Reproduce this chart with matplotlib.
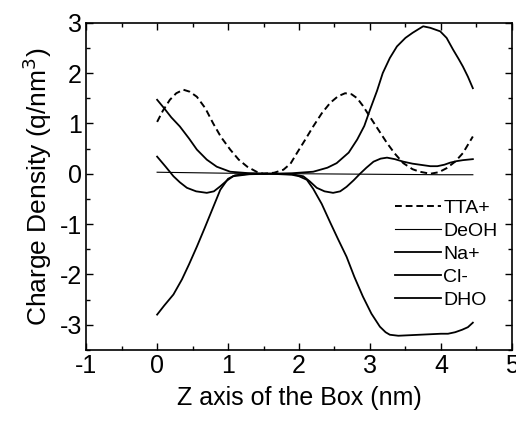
import matplotlib
matplotlib.use("Agg")
import matplotlib.pyplot as plt
from matplotlib.ticker import MultipleLocator

plt.rcParams["font.family"] = ["Liberation Sans", "DejaVu Sans"]
plt.rcParams["axes.unicode_minus"] = False

# TTA+ (dashed)
tta_x = [0, 0.08, 0.18, 0.27, 0.37, 0.46, 0.56, 0.68, 0.79, 0.9, 1.03, 1.15, 1.27,
         1.4, 1.5, 1.65, 1.78, 1.88, 1.97, 2.08, 2.2, 2.32, 2.44, 2.55, 2.65, 2.74,
         2.82, 2.9, 3.0, 3.12, 3.24, 3.35, 3.47, 3.6, 3.7, 3.85, 3.97, 4.08, 4.2,
         4.31, 4.45]
tta_y = [1.03, 1.25, 1.47, 1.6, 1.67, 1.63, 1.53, 1.3, 1.0, 0.73, 0.48, 0.28, 0.14,
         0.04, 0.0, 0.02, 0.08, 0.2, 0.41, 0.66, 0.94, 1.2, 1.41, 1.54, 1.6, 1.58,
         1.5, 1.35, 1.13, 0.87, 0.61, 0.4, 0.21, 0.09, 0.04, 0.0, 0.03, 0.11, 0.24,
         0.41, 0.74]

# DeOH (thin, ~flat)
deoh_x = [0, 1, 2, 3, 4, 4.45]
deoh_y = [0.03, 0.01, 0.0, -0.01, -0.02, -0.02]

# Na+
na_x = [0, 0.1, 0.2, 0.32, 0.45, 0.56, 0.7, 0.84, 1.03, 1.3, 1.6, 1.9, 2.2, 2.4,
        2.53, 2.7, 2.82, 2.92, 3.0, 3.1, 3.18, 3.28, 3.38, 3.5, 3.6, 3.68, 3.75,
        3.85, 3.99, 4.08, 4.17, 4.25, 4.31, 4.38, 4.45]
na_y = [1.47, 1.3, 1.12, 0.94, 0.7, 0.48, 0.28, 0.14, 0.04, 0.01, 0.0, 0.01, 0.04,
        0.12, 0.21, 0.42, 0.68, 0.95, 1.27, 1.65, 2.0, 2.3, 2.53, 2.7, 2.8, 2.87,
        2.93, 2.9, 2.83, 2.7, 2.47, 2.28, 2.13, 1.93, 1.7]

# Cl-
cl_x = [0, 0.12, 0.23, 0.32, 0.42, 0.55, 0.7, 0.8, 0.89, 0.98, 1.07, 1.3, 1.6, 1.9,
        2.06, 2.15, 2.25, 2.36, 2.48, 2.58, 2.67, 2.77, 2.86, 2.95, 3.05, 3.15,
        3.24, 3.35, 3.47, 3.6, 3.75, 3.85, 3.95, 4.05, 4.13, 4.22, 4.31, 4.45]
cl_y = [0.34, 0.14, -0.05, -0.17, -0.28, -0.35, -0.38, -0.35, -0.25, -0.14, -0.05,
        -0.01, 0.0, -0.01, -0.05, -0.15, -0.28, -0.35, -0.38, -0.35, -0.26, -0.13,
        0.0, 0.12, 0.24, 0.3, 0.32, 0.29, 0.24, 0.2, 0.17, 0.15, 0.15, 0.18, 0.22,
        0.25, 0.27, 0.29]

# DHO
dho_x = [0, 0.1, 0.23, 0.35, 0.45, 0.56, 0.67, 0.78, 0.89, 1.0, 1.1, 1.3, 1.6, 1.9,
         2.0, 2.11, 2.2, 2.32, 2.44, 2.55, 2.67, 2.78, 2.9, 3.02, 3.14, 3.22, 3.28,
         3.4, 3.55, 3.7, 3.85, 4.0, 4.1, 4.2, 4.3, 4.38, 4.45]
dho_y = [-2.8, -2.62, -2.4, -2.1, -1.8, -1.45, -1.08, -0.7, -0.32, -0.1, -0.03, 0.0,
         0.0, -0.02, -0.05, -0.12, -0.3, -0.6, -0.97, -1.3, -1.65, -2.05, -2.44,
         -2.78, -3.04, -3.15, -3.2, -3.22, -3.21, -3.2, -3.19, -3.18, -3.18, -3.15,
         -3.1, -3.05, -2.96]

fig = plt.figure(figsize=(5.16, 4.22), dpi=100)
ax = fig.add_axes([0.167, 0.171, 0.825, 0.775])

ax.plot(tta_x, tta_y, color="black", lw=1.4, ls=(0, (3.5, 2)), label="TTA+")
ax.plot(deoh_x, deoh_y, color="black", lw=0.8, label="DeOH")
ax.plot(na_x, na_y, color="black", lw=1.3, label="Na+")
ax.plot(cl_x, cl_y, color="black", lw=1.3, label="Cl-")
ax.plot(dho_x, dho_y, color="black", lw=1.3, label="DHO")

ax.set_xlim(-1, 5)
ax.set_ylim(-3.5, 3)
ax.xaxis.set_major_locator(MultipleLocator(1))
ax.xaxis.set_minor_locator(MultipleLocator(0.5))
ax.yaxis.set_major_locator(MultipleLocator(1))
ax.yaxis.set_minor_locator(MultipleLocator(0.5))
ax.tick_params(which="both", direction="in", top=True, right=True, width=1.0)
ax.tick_params(which="major", length=5, labelsize=18, pad=3)
ax.tick_params(which="minor", length=3)
for s in ax.spines.values():
    s.set_linewidth(1.2)

ax.set_xlabel("Z axis of the Box (nm)", fontsize=18, labelpad=6)
ax.set_ylabel("Charge Density (q/nm$^3$)", fontsize=19, labelpad=4)

ax.legend(loc="upper left", bbox_to_anchor=(0.765, 0.528),
          bbox_transform=fig.transFigure, frameon=False, fontsize=14,
          handlelength=2.4, handletextpad=0.1, labelspacing=0.28,
          borderpad=0, borderaxespad=0)

fig.savefig("out.png", dpi=100)
